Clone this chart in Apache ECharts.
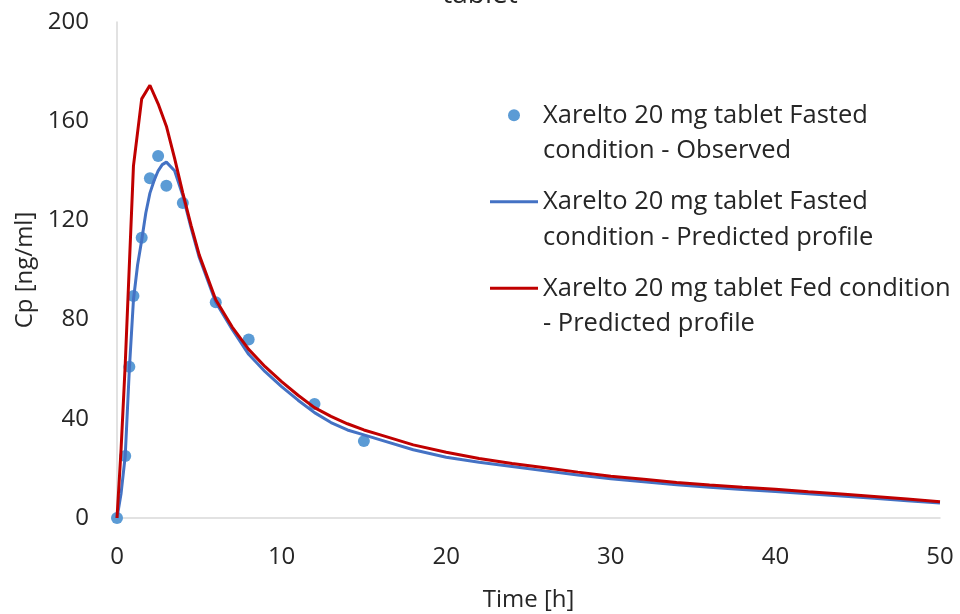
<!DOCTYPE html>
<html>
<head>
<meta charset="utf-8">
<script src="https://cdn.jsdelivr.net/npm/echarts@6/dist/echarts.min.js"></script>
<style>html,body{margin:0;padding:0;background:#fff}#c{width:960px;height:614px}</style>
</head>
<body>
<div id="c"></div>
<script>
const titleText = 'tablet';
const seriesNames = [
  'Xarelto 20 mg tablet Fasted\ncondition - Observed',
  'Xarelto 20 mg tablet Fasted\ncondition - Predicted profile',
  'Xarelto 20 mg tablet Fed condition\n- Predicted profile'
];
const obsTime = [0, 0.5, 0.75, 1, 1.5, 2, 2.5, 3, 4, 6, 8, 12, 15];
const obsFasted = [0, 25, 61, 89.5, 113, 137, 146, 134, 127, 87, 72, 46, 31];
const fastedTime = [0,0.25,0.5,0.75,1,1.25,1.5,1.75,2,2.25,2.5,2.75,3,3.5,4,4.5,5,6,7,8,9,10,11,12,13,14,15,16,18,20,22,24,26,28,30,32,34,36,38,40,42,44,46,48,50];
const predFasted = [0,10,25,60,88,102,112,123,131,136,140,142.5,143.5,140,130,117,105,87,76,66,59,53,47.5,42.5,38.5,35.5,33.5,31.5,27.5,24.5,22.5,20.8,19,17.3,15.8,14.6,13.4,12.4,11.5,10.7,9.8,8.9,8,7,6];
const fedTime = [0,0.25,0.5,1,1.5,2,2.5,3,3.5,4,4.5,5,6,7,8,9,10,11,12,13,14,15,16,18,20,22,24,26,28,30,32,34,36,38,40,42,44,46,48,50];
const predFed = [0,28,62,142,169,174.5,167,158,145,131,118,106,88,77,68,61,55,49.5,44.5,41,38,35.5,33.5,29.5,26.5,24,22,20.3,18.5,16.8,15.6,14.3,13.3,12.4,11.6,10.6,9.7,8.7,7.7,6.6];
const xTicks = {min: 0, max: 50, interval: 10};
const yTicks = {min: 0, max: 200, interval: 40};

const FONT = 'Open Sans';
const TEXT = '#262626';
const LINE_ICON = 'path://M0 0H48V3H0Z';
const chart = echarts.init(document.getElementById('c'), null, {renderer: 'canvas'});
const zip = (xs, ys) => xs.map((x, i) => [x, ys[i]]);
chart.setOption({
  animation: false,
  backgroundColor: '#ffffff',
  title: {
    text: titleText, left: 'center', top: -24,
    textStyle: {fontFamily: FONT, fontSize: 28, fontWeight: 'normal', color: TEXT}
  },
  grid: {left: 117, right: 20, top: 22, bottom: 96, containLabel: false, outerBoundsMode: 'none'},
  legend: {
    orient: 'vertical', left: 490, top: 62, padding: 0, itemGap: -20,
    itemWidth: 48, itemHeight: 12, symbolKeepAspect: true,
    formatter: name => '\n' + name,
    textStyle: {fontFamily: FONT, fontSize: 25.5, color: TEXT, lineHeight: 35.5},
    data: [
      {name: seriesNames[0], icon: 'circle'},
      {name: seriesNames[1], icon: LINE_ICON},
      {name: seriesNames[2], icon: LINE_ICON}
    ]
  },
  xAxis: {
    type: 'value', min: xTicks.min, max: xTicks.max, interval: xTicks.interval,
    name: 'Time [h]', nameLocation: 'middle', nameGap: 70,
    nameTextStyle: {fontFamily: FONT, fontSize: 24, color: TEXT},
    axisLine: {show: true, lineStyle: {color: '#D9D9D9', width: 1.5}},
    axisTick: {show: false}, splitLine: {show: false},
    axisLabel: {fontFamily: FONT, fontSize: 24, color: TEXT, margin: 27}
  },
  yAxis: {
    type: 'value', min: yTicks.min, max: yTicks.max, interval: yTicks.interval,
    name: 'Cp [ng/ml]', nameLocation: 'middle', nameGap: 76, nameRotate: 90,
    nameTextStyle: {fontFamily: FONT, fontSize: 24, color: TEXT},
    axisLine: {show: true, lineStyle: {color: '#D9D9D9', width: 1.5}},
    axisTick: {show: false}, splitLine: {show: false},
    axisLabel: {fontFamily: FONT, fontSize: 24, color: TEXT, margin: 28}
  },
  series: [
    {
      name: seriesNames[0], type: 'scatter', data: zip(obsTime, obsFasted),
      symbol: 'circle', symbolSize: 12, itemStyle: {color: '#5B9BD5', opacity: 1}, z: 2
    },
    {
      name: seriesNames[1], type: 'line', data: zip(fastedTime, predFasted),
      symbol: 'none', smooth: false, lineStyle: {color: '#4472C4', width: 3}, itemStyle: {color: '#4472C4'}, z: 3
    },
    {
      name: seriesNames[2], type: 'line', data: zip(fedTime, predFed),
      symbol: 'none', smooth: false, lineStyle: {color: '#C00000', width: 3}, itemStyle: {color: '#C00000'}, z: 4
    }
  ]
});
</script>
</body>
</html>
